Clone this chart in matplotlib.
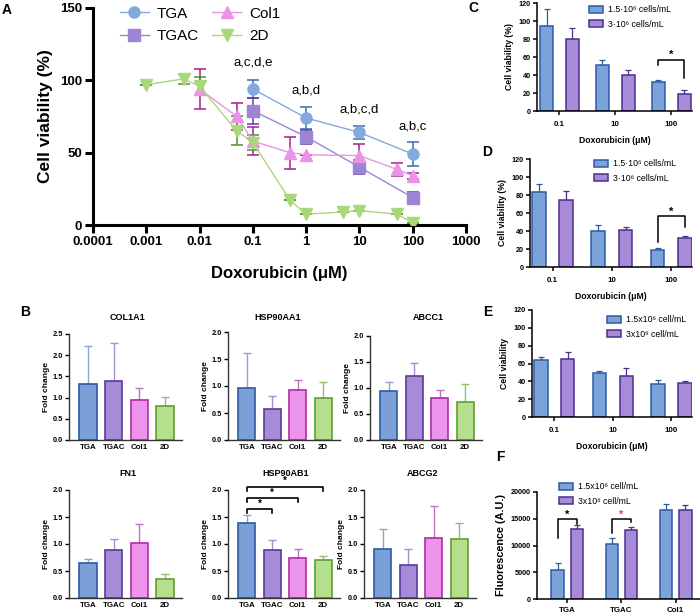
import matplotlib.pyplot as plt
from matplotlib.patches import Patch
import numpy as np

plt.rcParams['font.family'] = ['Liberation Sans', 'DejaVu Sans']
plt.rcParams['font.weight'] = 'bold'
plt.rcParams['axes.labelweight'] = 'bold'

W, H = 700, 613

# ---- panel A: dose response (log x) ----
tga_x = [0.1, 1, 10, 100]
tga_y = [94, 74, 64, 49]
tga_e = [6.5, 7.5, 4.5, 8.5]
tgac_x = [0.1, 1, 10, 100]
tgac_y = [79, 61, 40, 19]
tgac_e = [9, 5, 5, 4]
col1_x = [0.01, 0.05, 0.1, 0.5, 1, 10, 50, 100]
col1_y = [94, 75, 58, 50, 48.5, 48, 38.5, 34]
col1_e = [14, 9, 9.5, 11, 0, 8, 4.5, 2]
d2_x = [0.001, 0.005, 0.01, 0.05, 0.1, 0.5, 1, 5, 10, 50, 100]
d2_y = [97, 101, 96, 65, 57, 17, 7.5, 9, 10, 7.5, 1.5]
d2_e = [0, 3.5, 6, 10, 5, 0, 0, 0, 0, 0, 0]
sig_x = [0.1, 1, 10, 100]
sig_labels = ['a,c,d,e', 'a,b,d', 'a,b,c,d', 'a,b,c']
sig_y = [112, 93, 80, 68]
dose_ticks = [1e-4, 1e-3, 1e-2, 1e-1, 1, 10, 100, 1000]
dose_labels = ['0.0001', '0.001', '0.01', '0.1', '1', '10', '100', '1000']

# ---- panel B: gene expression ----
groups = ['TGA', 'TGAC', 'Col1', '2D']
genes = ['COL1A1', 'HSP90AA1', 'ABCC1', 'FN1', 'HSP90AB1', 'ABCG2']
fc_col1a1 = [1.32, 1.38, 0.94, 0.80]
er_col1a1 = [0.90, 0.91, 0.29, 0.21]
fc_hsp90aa1 = [0.97, 0.57, 0.92, 0.77]
er_hsp90aa1 = [0.64, 0.25, 0.19, 0.30]
fc_abcc1 = [0.95, 1.24, 0.80, 0.74]
er_abcc1 = [0.16, 0.24, 0.17, 0.33]
fc_fn1 = [0.65, 0.89, 1.02, 0.36]
er_fn1 = [0.08, 0.21, 0.35, 0.08]
fc_hsp90ab1 = [1.39, 0.88, 0.75, 0.71]
er_hsp90ab1 = [0.15, 0.20, 0.15, 0.07]
fc_abcg2 = [0.91, 0.61, 1.12, 1.09]
er_abcg2 = [0.37, 0.30, 0.59, 0.30]

# ---- panels C-F: cell density ----
dox = ['0.1', '10', '100']
c_low = [95, 51, 32];     c_low_e = [18, 6, 2]
c_high = [80, 40, 18.5];  c_high_e = [12, 5.5, 5]
d_low = [83, 39.5, 18.5]; d_low_e = [9, 7, 3]
d_high = [75, 41.5, 32];  d_high_e = [9, 3.5, 3]
e_low = [64, 49, 37];     e_low_e = [3, 3, 5]
e_high = [64.5, 46, 38.5]; e_high_e = [8.5, 8.5, 2]
f_groups = ['TGA', 'TGAC', 'Col1']
f_low = [5500, 10300, 16700];  f_low_e = [1150, 1050, 1100]
f_high = [13000, 12850, 16600]; f_high_e = [900, 650, 1050]

BLUE_F, BLUE_E = '#7ba3da', '#2c5ba6'
PURP_F, PURP_E = '#a88bd8', '#4d2f90'
bar_fill = ['#7ba0d8', '#a58bd8', '#ec93ec', '#b5df8d']
bar_edge = ['#2c5ba6', '#5b3a9c', '#b12ba8', '#5ea02d']
bar_err = ['#8ea6cf', '#a391c9', '#c46fc0', '#8fbf6c']


def px_axes(fig, left, right, top, bottom):
    return fig.add_axes([left / W, 1 - bottom / H, (right - left) / W, (bottom - top) / H])


def fig_text(fig, x, y, s, **kw):
    fig.text(x / W, 1 - y / H, s, **kw)


def style(ax, lw=1.1, fs=5, tl=3):
    for s in ['top', 'right']:
        ax.spines[s].set_visible(False)
    for s in ['left', 'bottom']:
        ax.spines[s].set_linewidth(lw)
    ax.tick_params(width=lw, length=tl, labelsize=fs, pad=1.5)


fig = plt.figure(figsize=(7, 6.13), dpi=100)

# ---------------- A ----------------
ax = px_axes(fig, 93, 466, 8, 225)
series = [
    (tga_x, tga_y, tga_e, 'TGA', 'o', '#84a9de', '#4469b0'),
    (tgac_x, tgac_y, tgac_e, 'TGAC', 's', '#9d84d4', '#5a3f9e'),
    (col1_x, col1_y, col1_e, 'Col1', '^', '#ec92e9', '#a3218f'),
    (d2_x, d2_y, d2_e, '2D', 'v', '#a9d87a', '#4f8f2a'),
]
for x, y, e, name, m, fc, ec in series:
    ax.errorbar(x, y, yerr=e, fmt='none', ecolor=ec, elinewidth=1.1,
                capsize=4, capthick=1.1, zorder=2)
    ax.plot(x, y, marker=m, color=fc, ms=8, lw=1, label=name, zorder=3)
ax.set_xscale('log')
ax.set_xlim(1e-4, 1e3)
ax.set_ylim(0, 150)
ax.set_xticks(dose_ticks)
ax.set_xticklabels(dose_labels)
ax.minorticks_off()
ax.set_yticks([0, 50, 100, 150])
style(ax, lw=2.2, fs=9.5, tl=6)
ax.tick_params(pad=2)
for xv, lab, yv in zip(sig_x, sig_labels, sig_y):
    ax.text(xv, yv, lab, ha='center', va='center', fontsize=9.5, fontweight='normal')
ax.set_xlabel('Doxorubicin (\u03bcM)', fontsize=12, labelpad=13)
ax.set_ylabel('Cell viability (%)', fontsize=12.5, labelpad=5)
ax.legend(ncol=2, loc='upper left', bbox_to_anchor=(0.035, 1.07), frameon=False,
          prop={'size': 11, 'weight': 'normal'}, handlelength=1.9,
          columnspacing=0.9, labelspacing=0.55, handletextpad=0.5)

# ---------------- B ----------------
b_axes = [
    (69, 182, 334, 440, 2.5),
    (228, 340, 332, 440, 2.0),
    (370, 482, 336, 440, 2.0),
    (69, 182, 490, 598, 2.0),
    (228, 340, 490, 598, 2.0),
    (364, 476, 490, 598, 2.0),
]
b_titles = [(128, 317), (278, 317), (428, 317), (128, 473), (286, 473), (423, 473)]
b_vals = [fc_col1a1, fc_hsp90aa1, fc_abcc1, fc_fn1, fc_hsp90ab1, fc_abcg2]
b_errs = [er_col1a1, er_hsp90aa1, er_abcc1, er_fn1, er_hsp90ab1, er_abcg2]
xb = np.arange(len(groups))
for (l, r, t, b, top), (tx, ty), gene, vals, errs in zip(b_axes, b_titles, genes, b_vals, b_errs):
    ax = px_axes(fig, l, r, t, b)
    for i in range(len(groups)):
        ax.errorbar(xb[i], vals[i], yerr=[[0], [errs[i]]], fmt='none', ecolor=bar_err[i],
                    elinewidth=1.0, capsize=3, capthick=1.0, zorder=1)
    ax.bar(xb, vals, width=0.67, color=bar_fill, edgecolor=bar_edge, linewidth=1.2, zorder=2)
    ax.set_xlim(-0.74, 3.66)
    ax.set_ylim(0, top)
    ax.set_yticks(np.arange(0, top + 0.01, 0.5))
    ax.set_yticklabels([f'{v:.1f}' for v in np.arange(0, top + 0.01, 0.5)])
    ax.set_xticks(xb)
    ax.set_xticklabels(groups)
    style(ax, lw=1.0, fs=5.3, tl=3)
    ax.tick_params(axis='x', length=0, labelsize=5.7, pad=3)
    for s in ['left', 'bottom']:
        ax.spines[s].set_color('#333333')
    ax.set_ylabel('Fold change', fontsize=6, labelpad=2)
    fig_text(fig, tx, ty, gene, ha='center', va='center', fontsize=6.5, fontweight='bold')
    if gene == 'HSP90AB1':
        for j, yb in zip([1, 2, 3], [1.65, 1.85, 2.06]):
            ax.plot([0, 0, j, j], [yb - 0.08, yb, yb, yb - 0.08], color='k', lw=1.2,
                    clip_on=False, zorder=4)
            ax.text(j / 2, yb + 0.01, '*', ha='center', va='bottom', fontsize=7,
                    fontweight='bold')


# ---------------- C-F ----------------
def density_panel(l, r, t, b, low, low_e, high, high_e, ylim, yticks, xlabels,
                  off, wid, xl, ylab, ylab_fs, leg_labels, leg_anchor, xlabel=True):
    ax = px_axes(fig, l, r, t, b)
    xg = np.arange(len(low))
    ax.errorbar(xg - off, low, yerr=[np.zeros(len(low)), low_e], fmt='none', ecolor=BLUE_E,
                elinewidth=0.9, capsize=2.5, capthick=0.9, zorder=1)
    ax.errorbar(xg + off, high, yerr=[np.zeros(len(high)), high_e], fmt='none', ecolor=PURP_E,
                elinewidth=0.9, capsize=2.5, capthick=0.9, zorder=1)
    ax.bar(xg - off, low, width=wid, color=BLUE_F, edgecolor=BLUE_E, lw=1.1, zorder=2)
    ax.bar(xg + off, high, width=wid, color=PURP_F, edgecolor=PURP_E, lw=1.1, zorder=2)
    ax.set_xlim(*xl)
    ax.set_ylim(*ylim)
    ax.set_yticks(yticks)
    ax.set_xticks(xg)
    ax.set_xticklabels(xlabels)
    style(ax, lw=1.1, fs=5.2, tl=3)
    ax.tick_params(axis='x', labelsize=5.7, pad=4)
    ax.set_ylabel(ylab, fontsize=ylab_fs, labelpad=3)
    if xlabel:
        ax.set_xlabel('Doxorubicin (\u03bcM)', fontsize=6.2, labelpad=6)
    handles = [Patch(facecolor=BLUE_F, edgecolor=BLUE_E, lw=1.1),
               Patch(facecolor=PURP_F, edgecolor=PURP_E, lw=1.1)]
    ax.legend(handles, leg_labels, loc='upper left', bbox_to_anchor=leg_anchor,
              bbox_transform=fig.transFigure, frameon=False,
              prop={'size': 6.3, 'weight': 'normal'}, handlelength=1.5, handleheight=0.8,
              labelspacing=0.6, handletextpad=0.6, borderpad=0)
    return ax


def bracket(ax, x1, x2, top, y1, y2, star_y, color='k', fs=8):
    ax.plot([x1, x1, x2, x2], [y1, top, top, y2], color='k', lw=1.1, clip_on=False, zorder=4)
    ax.text((x1 + x2) / 2, star_y, '*', ha='center', va='center', fontsize=fs,
            fontweight='bold', color=color)


lab_c = ['1.5\u00b710\u2076 cells/mL', '3\u00b710\u2076 cells/mL']
lab_e = ['1.5x10\u2076 cell/mL', '3x10\u2076 cell/mL']

ax = density_panel(537, 692, 3, 111, c_low, c_low_e, c_high, c_high_e, (0, 120),
                   [0, 20, 40, 60, 80, 100, 120], dox, 0.23, 0.23, (-0.4, 2.37),
                   'Cell viability (%)', 6.2, lab_c, (585 / W, 1 - 1 / H))
bracket(ax, 2 - 0.23, 2 + 0.23, 57, 51, 37, 62)

ax = density_panel(530, 692, 159, 267, d_low, d_low_e, d_high, d_high_e, (0, 120),
                   [0, 20, 40, 60, 80, 100, 120], dox, 0.23, 0.23, (-0.38, 2.35),
                   'Cell viability (%)', 6.2, lab_c, (590 / W, 1 - 155 / H))
bracket(ax, 2 - 0.23, 2 + 0.23, 57, 28, 45, 61)

ax = density_panel(532, 692, 310, 417, e_low, e_low_e, e_high, e_high_e, (0, 120),
                   [0, 20, 40, 60, 80, 100, 120], dox, 0.23, 0.23, (-0.38, 2.35),
                   'Cell viability', 6.2, lab_e, (603 / W, 1 - 311 / H))

ax = density_panel(537, 700, 492, 599, f_low, f_low_e, f_high, f_high_e, (0, 20000),
                   [0, 5000, 10000, 15000, 20000], f_groups, 0.18, 0.23, (-0.56, 2.45),
                   'Fluorescence (A.U.)', 7.8, lab_e, (555 / W, 1 - 478 / H), xlabel=False)
ax.tick_params(axis='x', pad=3)
bracket(ax, -0.18, 0.18, 14900, 11400, 14100, 15800)
bracket(ax, 1 - 0.18, 1 + 0.18, 14900, 12300, 14300, 15800, color='#e8413a')

# panel letters
for letter, (x, y) in zip('ABCDEF', [(7, 10), (25, 312), (473, 8), (487, 152), (488, 312), (500, 457)]):
    fig_text(fig, x, y, letter, ha='center', va='center', fontsize=10, fontweight='bold')

fig.savefig('out.png', dpi=100)
